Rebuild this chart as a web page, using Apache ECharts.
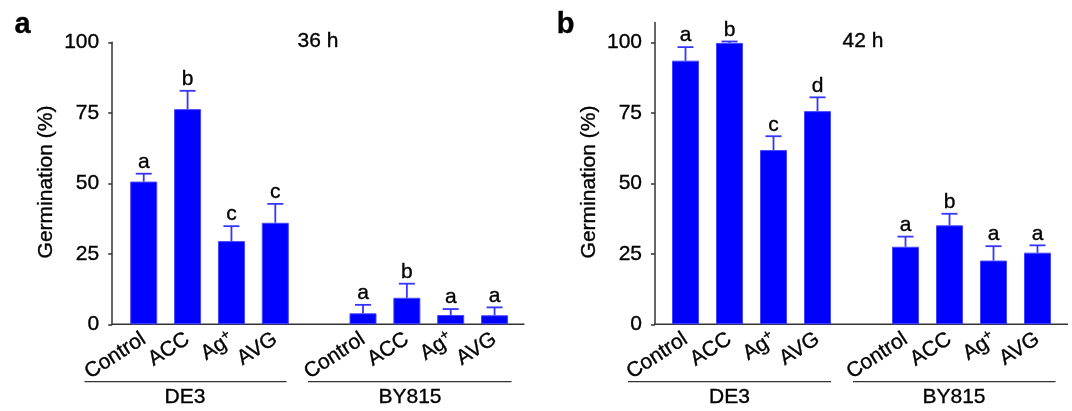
<!DOCTYPE html>
<html>
<head>
<meta charset="utf-8">
<script src="https://cdn.jsdelivr.net/npm/echarts@6/dist/echarts.min.js"></script>
<style>
html,body{margin:0;padding:0;background:#fff;}
#c{width:1072px;height:411px;}
</style>
</head>
<body>
<div id="c"></div>
<script>
// ---- data ----
const categories = ['Control', 'ACC', 'Ag+', 'AVG', '', 'Control', 'ACC', 'Ag+', 'AVG'];
const groupNames = ['DE3', 'BY815'];
const yTicks = [0, 25, 50, 75, 100];
const titles = ['36 h', '42 h'];
const panelLetters = ['a', 'b'];

const meanA   = [50.6, 76.3, 29.5, 36.0, '-', 3.9, 9.4, 3.3, 3.2];
const upperA  = [53.4, 82.8, 34.8, 42.7, '-', 6.9, 14.4, 5.4, 6.0];
const lettersA = ['a', 'b', 'c', 'c', '', 'a', 'b', 'a', 'a'];

const meanB   = [93.5, 99.8, 61.8, 75.6, '-', 27.5, 35.1, 22.6, 25.4];
const upperB  = [98.3, 100.3, 66.7, 80.5, '-', 31.1, 39.2, 27.7, 28.0];
const lettersB = ['a', 'b', 'c', 'd', '', 'a', 'b', 'a', 'a'];

// ---- styles ----
const FONT = "'Liberation Sans', Arial, Helvetica, sans-serif";
const BAR = '#0000ff';
const ERR = '#3535ff';
const AXIS = '#333333';
const TB = {textBorderColor: '#000', textBorderWidth: 0.35};   // label text stroke
const TS = {stroke: '#000', lineWidth: 0.35};                   // zrender text stroke

const chart = echarts.init(document.getElementById('c'), null, {renderer: 'canvas'});

function errData(mean, upper) {
  const out = [];
  mean.forEach((m, i) => { if (m !== '-') out.push([i, m, upper[i]]); });
  return out;
}

function makeErrRender(letters) {
  return function (params, api) {
    const x = api.value(0);
    const p0 = api.coord([x, api.value(1)]);
    const p1 = api.coord([x, api.value(2)]);
    const hw = 8;
    const st = {stroke: ERR, lineWidth: 1.8};
    return {
      type: 'group',
      children: [
        {type: 'line', shape: {x1: p0[0], y1: p0[1], x2: p1[0], y2: p1[1]}, style: st},
        {type: 'line', shape: {x1: p1[0] - hw, y1: p1[1], x2: p1[0] + hw, y2: p1[1]}, style: st},
        {type: 'text', x: p1[0], y: p1[1] - 1,
          style: Object.assign({text: letters[x], textAlign: 'center', textVerticalAlign: 'bottom',
            fontSize: 21, fontFamily: FONT, fill: '#000'}, TS)}
      ]
    };
  };
}

const xLabel = Object.assign({
  rotate: 33, fontSize: 21, fontFamily: FONT, color: '#000', margin: 13, interval: 0,
  formatter: v => v === 'Ag+' ? '{n|Ag}{s|+}' : v,
  rich: {
    n: Object.assign({fontSize: 21, fontFamily: FONT, color: '#000'}, TB),
    s: Object.assign({fontSize: 14, fontFamily: FONT, color: '#000', verticalAlign: 'top', padding: [0, 0, 10, 0]}, TB)
  }
}, TB);

function yAxisCfg(gi, max, offset) {
  return {
    type: 'value', gridIndex: gi, min: 0, max: max, interval: 25, offset: offset,
    axisLine: {show: true, lineStyle: {color: AXIS, width: 1.5}},
    axisTick: {show: true, length: 4, inside: false, customValues: yTicks, lineStyle: {color: AXIS, width: 1.5}},
    axisLabel: Object.assign({fontSize: 21, fontFamily: FONT, color: '#000', margin: 13, customValues: yTicks}, TB),
    splitLine: {show: false}
  };
}

function xAxisCfg(gi) {
  return {
    type: 'category', gridIndex: gi, data: categories,
    axisLine: {show: false}, axisTick: {show: false}, axisLabel: xLabel, splitLine: {show: false}
  };
}

function barSeries(idx, data) {
  return {
    type: 'bar', xAxisIndex: idx, yAxisIndex: idx, data: data, barWidth: 27,
    itemStyle: {color: BAR, borderColor: '#4545ff', borderWidth: 1},
    silent: true, animation: false
  };
}

function errSeries(idx, mean, upper, letters) {
  return {
    type: 'custom', xAxisIndex: idx, yAxisIndex: idx, data: errData(mean, upper),
    renderItem: makeErrRender(letters), encode: {x: 0, y: [1, 2]}, clip: false,
    silent: true, animation: false, z: 3
  };
}

function txt(text, x, y, size, opts) {
  return Object.assign({
    type: 'text', x: x, y: y,
    style: Object.assign({text: text, fontSize: size, fontFamily: FONT, fill: '#000',
      textAlign: 'center', textVerticalAlign: 'middle'}, TS, (opts && opts.style) || {})
  }, opts && opts.el || {});
}

function hline(x1, x2, y, w) {
  return {type: 'line', shape: {x1: x1, y1: y, x2: x2, y2: y}, style: {stroke: AXIS, lineWidth: w || 1.5}};
}

const graphic = [
  // x axis baselines
  hline(111.5, 524.5, 324.3),
  hline(654.3, 1068, 324.3),
  // group lines
  hline(84.5, 286.5, 381.7, 1.3),
  hline(308, 511.5, 381.7, 1.3),
  hline(628, 831, 381.7, 1.3),
  hline(853, 1055.5, 381.7, 1.3),
  // group labels
  txt(groupNames[0], 185, 397, 21),
  txt(groupNames[1], 410, 397, 21),
  txt(groupNames[0], 729.5, 397, 21),
  txt(groupNames[1], 954, 397, 21),
  // titles
  txt(titles[0], 318, 41, 21),
  txt(titles[1], 863, 41, 21),
  // panel letters
  txt(panelLetters[0], 22.5, 25, 29, {style: {fontWeight: 'bold'}}),
  txt(panelLetters[1], 565.5, 25, 29, {style: {fontWeight: 'bold'}}),
  // y axis names
  txt('Germination (%)', 46, 182, 21, {el: {rotation: Math.PI / 2}}),
  txt('Germination (%)', 589, 182, 21, {el: {rotation: Math.PI / 2}})
];

chart.setOption({
  animation: false,
  backgroundColor: '#fff',
  grid: [
    {left: 121.8, top: 42.3, width: 394.7, height: 282, containLabel: false, outerBoundsMode: 'none'},
    {left: 663.5, top: 22.6, width: 396, height: 301.7, containLabel: false, outerBoundsMode: 'none'}
  ],
  xAxis: [xAxisCfg(0), xAxisCfg(1)],
  yAxis: [yAxisCfg(0, 100, 9.6), yAxisCfg(1, 107, 8.5)],
  series: [
    barSeries(0, meanA), errSeries(0, meanA, upperA, lettersA),
    barSeries(1, meanB), errSeries(1, meanB, upperB, lettersB)
  ],
  graphic: graphic
});
</script>
</body>
</html>
